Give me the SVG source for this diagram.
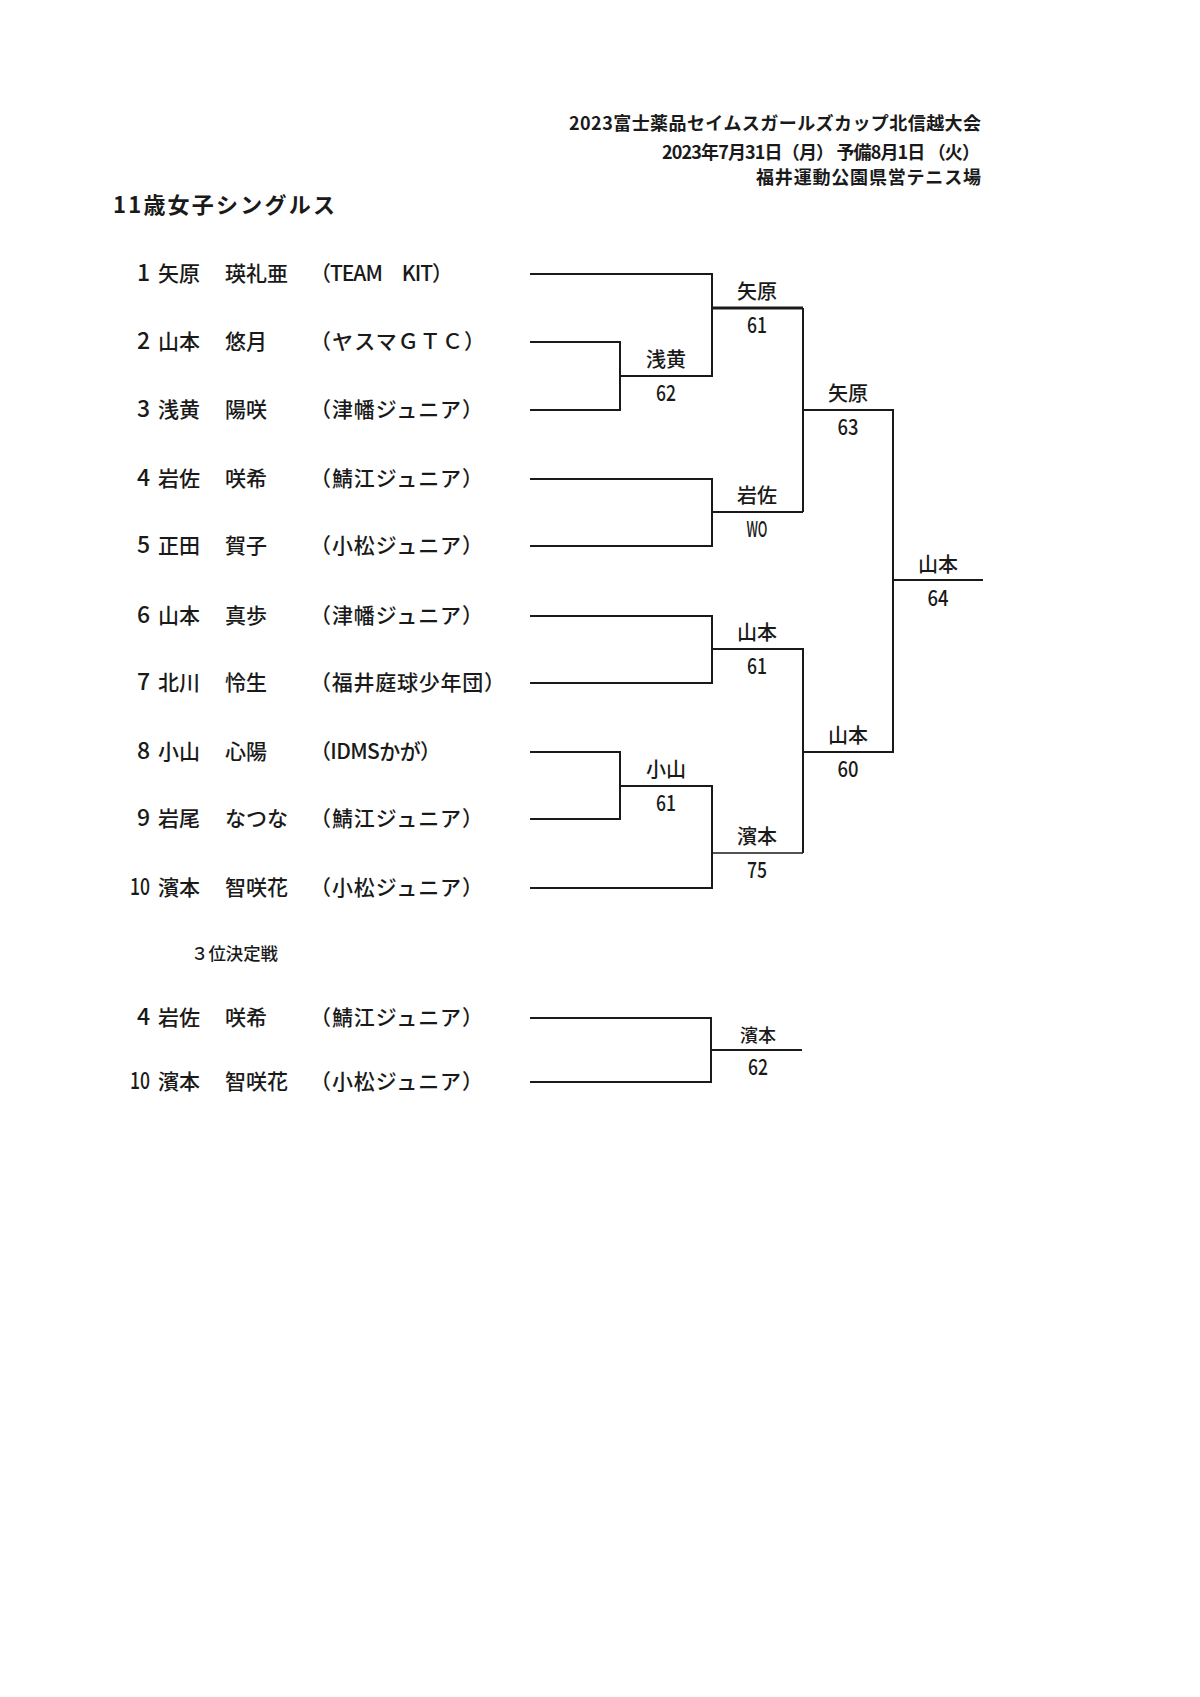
<svg xmlns="http://www.w3.org/2000/svg" width="1200" height="1697" viewBox="0 0 1200 1697">
<style>
text{font-family:"Noto Sans CJK JP","Liberation Sans",sans-serif;fill:#1a1a1a}
.hd{font-size:18px;font-weight:bold;text-anchor:end}
.tt{font-size:22px;font-weight:bold}
.num{font-size:23px;text-anchor:end;font-weight:500}
.nm{font-size:21px;font-weight:500}
.lb{font-size:20px;text-anchor:middle;font-weight:500}
.sc{font-size:22px;text-anchor:middle;font-weight:500}
.lb3{font-size:18px;text-anchor:middle;font-weight:500}
.sub{font-size:17.4px;font-weight:500}
.ln{fill:none;stroke:#1a1a1a;stroke-width:2;stroke-linejoin:miter}
</style>
<rect width="1200" height="1697" fill="#ffffff"/>
<g id="header">
<text class="hd" x="981" y="130" textLength="412">2023富士薬品セイムスガールズカップ北信越大会</text>
<text class="hd" x="980" y="159" textLength="318">2023年7月31日（月） 予備8月1日 （火）</text>
<text class="hd" x="981" y="184" textLength="225">福井運動公園県営テニス場</text>
</g>
<text id="title" class="tt" x="113" y="213" textLength="222">11歳女子シングルス</text>
<g id="p1"><text class="num" x="150" y="281">1</text><text class="nm" x="158" y="281">矢原</text><text class="nm" x="225" y="281">瑛礼亜</text><text class="nm" x="310" y="281" textLength="143">（TEAM　KIT）</text></g>
<g id="p2"><text class="num" x="150" y="349">2</text><text class="nm" x="158" y="349">山本</text><text class="nm" x="225" y="349">悠月</text><text class="nm" x="310" y="349" textLength="175">（ヤスマＧＴＣ）</text></g>
<g id="p3"><text class="num" x="150" y="417">3</text><text class="nm" x="158" y="417">浅黄</text><text class="nm" x="225" y="417">陽咲</text><text class="nm" x="310" y="417" textLength="173">（津幡ジュニア）</text></g>
<g id="p4"><text class="num" x="150" y="486">4</text><text class="nm" x="158" y="486">岩佐</text><text class="nm" x="225" y="486">咲希</text><text class="nm" x="310" y="486" textLength="173">（鯖江ジュニア）</text></g>
<g id="p5"><text class="num" x="150" y="553">5</text><text class="nm" x="158" y="553">正田</text><text class="nm" x="225" y="553">賀子</text><text class="nm" x="310" y="553" textLength="173">（小松ジュニア）</text></g>
<g id="p6"><text class="num" x="150" y="623">6</text><text class="nm" x="158" y="623">山本</text><text class="nm" x="225" y="623">真歩</text><text class="nm" x="310" y="623" textLength="173">（津幡ジュニア）</text></g>
<g id="p7"><text class="num" x="150" y="690">7</text><text class="nm" x="158" y="690">北川</text><text class="nm" x="225" y="690">怜生</text><text class="nm" x="310" y="690" textLength="195">（福井庭球少年団）</text></g>
<g id="p8"><text class="num" x="150" y="759">8</text><text class="nm" x="158" y="759">小山</text><text class="nm" x="225" y="759">心陽</text><text class="nm" x="310" y="759" textLength="131">（IDMSかが）</text></g>
<g id="p9"><text class="num" x="150" y="826">9</text><text class="nm" x="158" y="826">岩尾</text><text class="nm" x="225" y="826">なつな</text><text class="nm" x="310" y="826" textLength="173">（鯖江ジュニア）</text></g>
<g id="p10"><text class="num" x="150" y="895" textLength="20" lengthAdjust="spacingAndGlyphs">10</text><text class="nm" x="158" y="895">濱本</text><text class="nm" x="225" y="895">智咲花</text><text class="nm" x="310" y="895" textLength="173">（小松ジュニア）</text></g>
<text id="third-title" class="sub" x="191" y="960" textLength="87">３位決定戦</text>
<g id="t1"><text class="num" x="150" y="1025">4</text><text class="nm" x="158" y="1025">岩佐</text><text class="nm" x="225" y="1025">咲希</text><text class="nm" x="310" y="1025" textLength="173">（鯖江ジュニア）</text></g>
<g id="t2"><text class="num" x="150" y="1089" textLength="20" lengthAdjust="spacingAndGlyphs">10</text><text class="nm" x="158" y="1089">濱本</text><text class="nm" x="225" y="1089">智咲花</text><text class="nm" x="310" y="1089" textLength="173">（小松ジュニア）</text></g>
<g id="connectors">
<polyline class="ln" points="530,274 712,274 712,376 620,376"/>
<polyline class="ln" points="530,342 620,342 620,410 530,410"/>
<line class="ln" x1="712" y1="308" x2="803" y2="308" style="stroke-width:3"/>
<polyline class="ln" points="530,479 712,479 712,546 530,546"/>
<line class="ln" x1="712" y1="512" x2="803" y2="512"/>
<polyline class="ln" points="803,308 803,512"/>
<polyline class="ln" points="803,410 893,410 893,752 803,752"/>
<line class="ln" x1="893" y1="580" x2="983" y2="580"/>
<polyline class="ln" points="530,616 712,616 712,683 530,683"/>
<polyline class="ln" points="712,649 803,649 803,853"/>
<polyline class="ln" points="530,752 620,752 620,819 530,819"/>
<polyline class="ln" points="620,786 712,786 712,888 530,888"/>
<line class="ln" x1="712" y1="853" x2="803" y2="853" style="stroke-width:1.3"/>
<polyline class="ln" points="530,1018 711,1018 711,1082 530,1082"/>
<line class="ln" x1="711" y1="1050" x2="802" y2="1050"/>
</g>
<g id="m1"><text class="lb" x="757" y="299">矢原</text><text class="sc" x="757" y="333" textLength="20" lengthAdjust="spacingAndGlyphs">61</text></g>
<g id="m2"><text class="lb" x="666" y="367">浅黄</text><text class="sc" x="666" y="401" textLength="20" lengthAdjust="spacingAndGlyphs">62</text></g>
<g id="m3"><text class="lb" x="757" y="503">岩佐</text><text class="sc" x="757" y="537" textLength="21" lengthAdjust="spacingAndGlyphs">WO</text></g>
<g id="m4"><text class="lb" x="848" y="401">矢原</text><text class="sc" x="848" y="435" textLength="21" lengthAdjust="spacingAndGlyphs">63</text></g>
<g id="m5"><text class="lb" x="757" y="640">山本</text><text class="sc" x="757" y="674" textLength="20" lengthAdjust="spacingAndGlyphs">61</text></g>
<g id="m6"><text class="lb" x="666" y="777">小山</text><text class="sc" x="666" y="811" textLength="20" lengthAdjust="spacingAndGlyphs">61</text></g>
<g id="m7"><text class="lb" x="757" y="844">濱本</text><text class="sc" x="757" y="878" textLength="20" lengthAdjust="spacingAndGlyphs">75</text></g>
<g id="m8"><text class="lb" x="848" y="743">山本</text><text class="sc" x="848" y="777" textLength="21" lengthAdjust="spacingAndGlyphs">60</text></g>
<g id="m9"><text class="lb" x="938" y="572">山本</text><text class="sc" x="938" y="606" textLength="21" lengthAdjust="spacingAndGlyphs">64</text></g>
<g id="m10"><text class="lb3" x="758" y="1042">濱本</text><text class="sc" x="758" y="1075" textLength="20" lengthAdjust="spacingAndGlyphs">62</text></g>
</svg>
